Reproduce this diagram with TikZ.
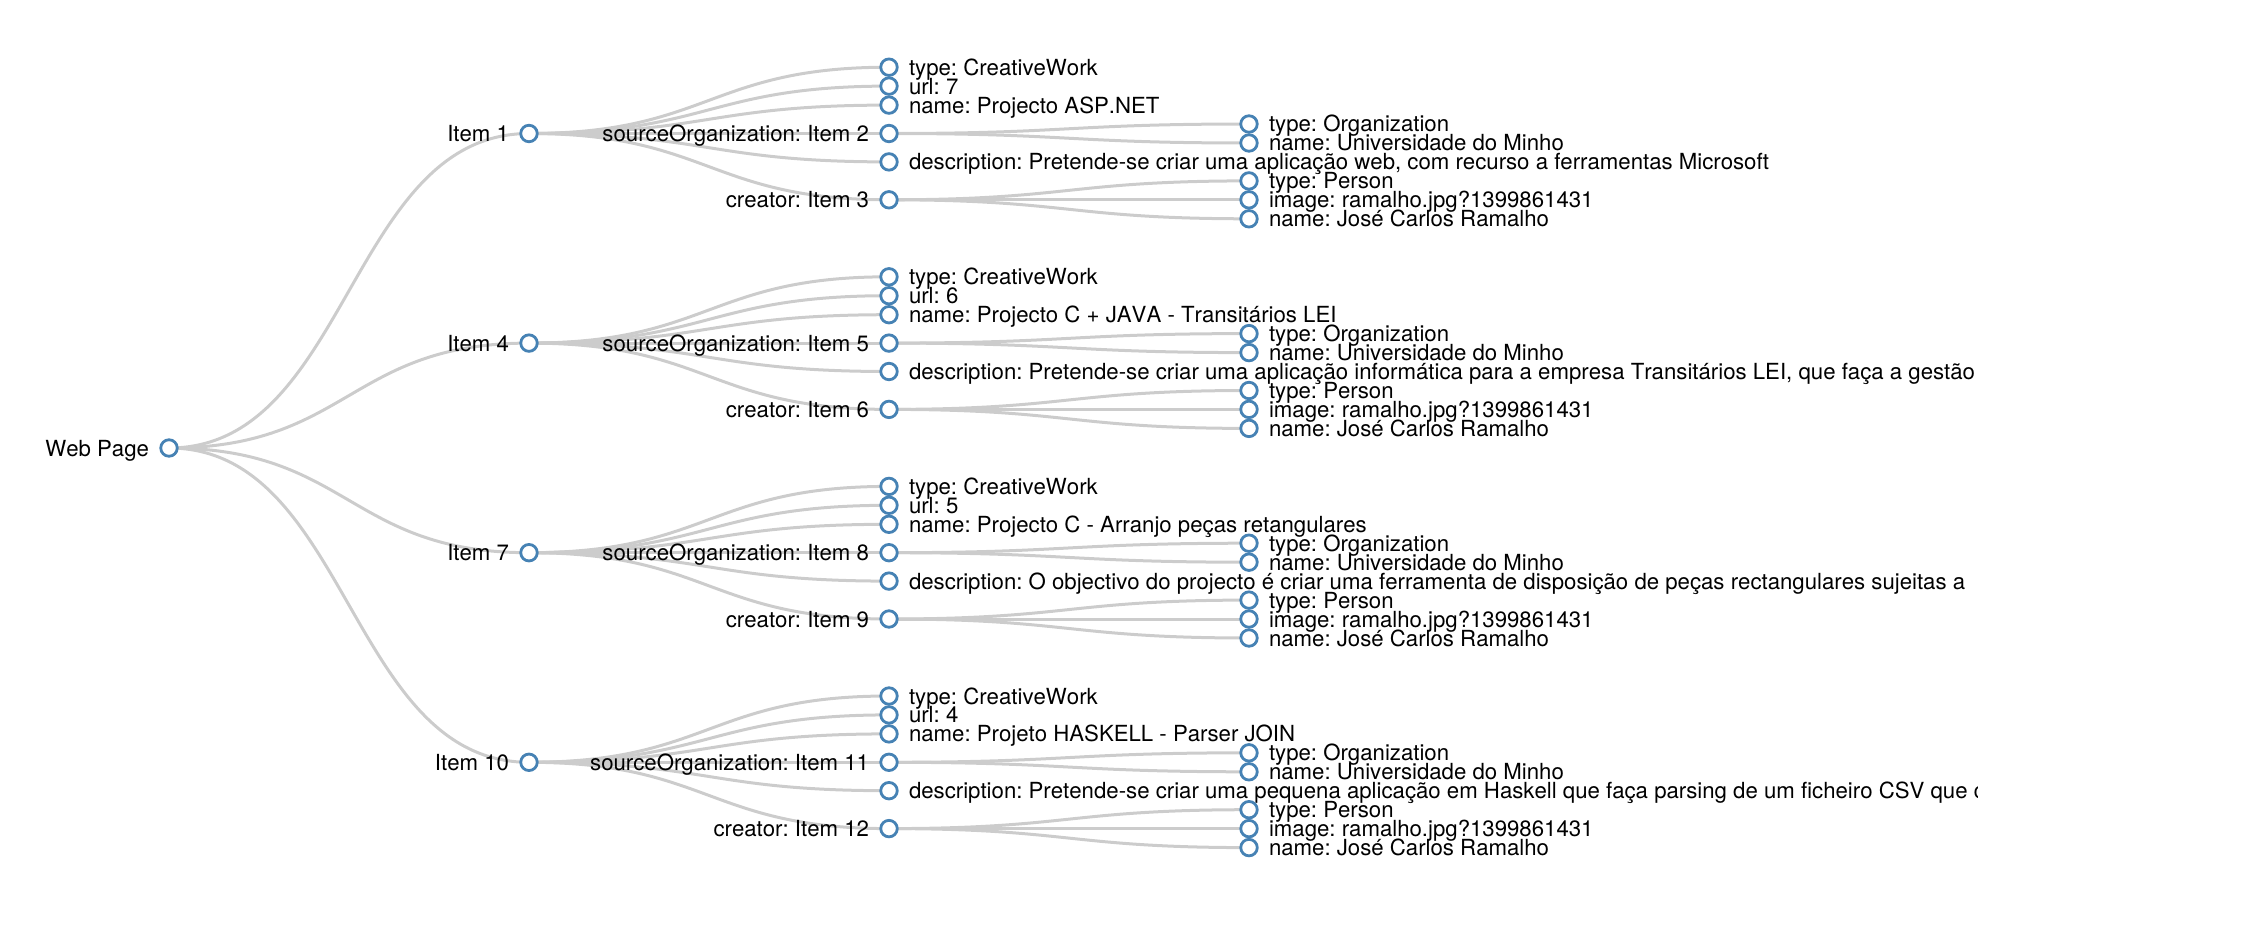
\documentclass[tikz,border=0pt]{standalone}
\usepackage{fontspec}
\setmainfont{TeX Gyre Heros}[Kerning=Off]
\usetikzlibrary{calc,backgrounds}
\definecolor{steel}{HTML}{4682B4}
\definecolor{linkc}{HTML}{CCCCCC}
\frenchspacing
\tikzset{
  dot/.style={circle,draw=steel,fill=white,line width=2.8pt,minimum size=16.5pt,inner sep=0pt},
  lbl/.style={inner sep=0pt,outer sep=0pt,text=black,font=\fontsize{22.2}{26}\selectfont},
  link/.style={draw=linkc,line width=3pt},
}
\newcommand\leafn[4]{%
  \node[dot] (#1) at (#2,{#3}) {};
  \node[lbl,anchor=base west] (#1t) at ($(#1.center)+(20,8)$) {#4};}
\newcommand\innern[4]{%
  \node[dot] (#1) at (#2,{#3}) {};
  \node[lbl,anchor=base east] (#1t) at ($(#1.center)+(-20,8)$) {#4};}
\newcommand\lnk[2]{%
  \draw[link] let \p1=(#1.center),\p2=(#2.center) in
    (\p1) .. controls ({0.5*\x1+0.5*\x2},\y1) and ({0.5*\x1+0.5*\x2},\y2) .. (\p2);}
% #1 id, #2 y, #3 item label, #4 url, #5 name, #6 source org, #7 description, #8 creator
\newcommand\group[8]{%
  \innern{i#1}{529}{#2}{#3}
  \leafn{a#1}{889}{#2-66.3}{type: CreativeWork}
  \leafn{b#1}{889}{#2-47.4}{url: #4}
  \leafn{c#1}{889}{#2-28.4}{name: #5}
  \innern{d#1}{889}{#2}{sourceOrganization: #6}
  \leafn{g#1}{1249}{#2-9.5}{type: Organization}
  \leafn{h#1}{1249}{#2+9.5}{name: Universidade do Minho}
  \leafn{e#1}{889}{#2+28.4}{description: #7}
  \innern{f#1}{889}{#2+66.3}{creator: #8}
  \leafn{p#1}{1249}{#2+47.4}{type: Person}
  \leafn{q#1}{1249}{#2+66.3}{image: ramalho.jpg?1399861431}
  \leafn{r#1}{1249}{#2+85.3}{name: José Carlos Ramalho}
  \begin{scope}[on background layer]
    \lnk{root}{i#1}
    \lnk{i#1}{a#1}\lnk{i#1}{b#1}\lnk{i#1}{c#1}
    \lnk{i#1}{d#1}\lnk{i#1}{e#1}\lnk{i#1}{f#1}
    \lnk{d#1}{g#1}\lnk{d#1}{h#1}
    \lnk{f#1}{p#1}\lnk{f#1}{q#1}\lnk{f#1}{r#1}
  \end{scope}}
\begin{document}
\begin{tikzpicture}[x=1pt,y=-1pt]
\useasboundingbox (0,0) rectangle (2244,928);
\clip (0,0) rectangle (1977,928);
\innern{root}{169}{448}{Web Page}
\group{1}{133.5}{Item 1}{7}{Projecto ASP.NET}{Item 2}{Pretende-se criar uma aplicação web, com recurso a ferramentas Microsoft}{Item 3}
\group{2}{343.1}{Item 4}{6}{Projecto C + JAVA - Transitários LEI}{Item 5}{Pretende-se criar uma aplicação informática para a empresa Transitários LEI, que faça a gestão}{Item 6}
\group{3}{552.7}{Item 7}{5}{Projecto C - Arranjo peças retangulares}{Item 8}{O objectivo do projecto é criar uma ferramenta de disposição de peças rectangulares sujeitas a}{Item 9}
\group{4}{762.3}{Item 10}{4}{Projeto HASKELL - Parser JOIN}{Item 11}{Pretende-se criar uma pequena aplicação em Haskell que faça parsing de um ficheiro CSV que c}{Item 12}
\end{tikzpicture}
\end{document}
